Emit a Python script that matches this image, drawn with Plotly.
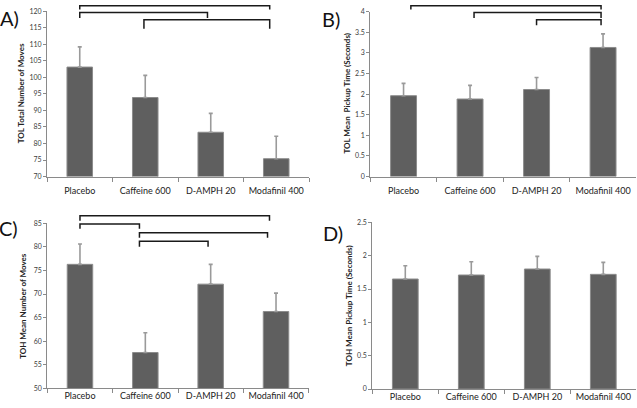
import plotly.graph_objects as go

categories = ["Placebo", "Caffeine 600", "D-AMPH 20", "Modafinil 400"]

tol_moves = [103.1, 93.9, 83.4, 75.4]
tol_moves_err = [6.1, 6.7, 5.7, 6.8]

tol_pickup = [1.96, 1.88, 2.11, 3.13]
tol_pickup_err = [0.30, 0.33, 0.29, 0.33]

toh_moves = [76.3, 57.6, 72.1, 66.3]
toh_moves_err = [4.3, 4.2, 4.2, 3.9]

toh_pickup = [1.65, 1.71, 1.80, 1.72]
toh_pickup_err = [0.20, 0.20, 0.19, 0.18]

# significance brackets: (left category pos, right category pos)
brackets_A = [(0.0, 2.9), (0.0, 1.95), (0.98, 2.9)]
brackets_B = [(0.11, 2.97), (1.06, 2.97), (2.0, 2.97)]
brackets_C = [(0.0, 2.9), (0.0, 0.91), (0.91, 2.87), (0.91, 1.96)]
brackets_D = []

W, H = 637, 408
BAR = "#5f5f5f"
AX = "#8a8a8a"
FONT = "Lato, 'Open Sans', sans-serif"

# panel geometry in pixels: (left, right, top, bottom)
panels = [
    dict(name="A)", data=tol_moves, err=tol_moves_err, rng=[70, 120], dt=5,
         box=(47, 309, 6.3, 175), title="TOL Total Number of Moves", tx=20.5,
         br=brackets_A, brpx=[(0.7, 4.7), (7.7, 13.3), (15, 24.3)], lab=(9, 13), so=6),
    dict(name="B)", data=tol_pickup, err=tol_pickup_err, rng=[0, 4], dt=0.5,
         box=(370.3, 636.3, 6.7, 175), title="TOL Mean  Pickup Time (Seconds)", tx=347.5,
         br=brackets_B, brpx=[(0.7, 4.7), (7.7, 13.3), (15, 20.7)], lab=(331, 14), so=6),
    dict(name="C)", data=toh_moves, err=toh_moves_err, rng=[50, 85], dt=5,
         box=(47.3, 308.7, 222.7, 391), title="TOH Mean Number of Moves", tx=23,
         br=brackets_C, brpx=[(215, 220), (223.3, 228.3), (232.3, 237.3), (241, 246.7)],
         lab=(8, 227), so=-1),
    dict(name="D)", data=toh_pickup, err=toh_pickup_err, rng=[0, 2.5], dt=0.5,
         box=(372.3, 636.3, 221.7, 391.7), title="TOH Mean Pickup Time (Seconds)", tx=348.5,
         br=brackets_D, brpx=[], lab=(333, 233), so=-1),
]

fig = go.Figure()
shapes = []
annotations = []

for k, p in enumerate(panels):
    sfx = "" if k == 0 else str(k + 1)
    l, r, t, b = p["box"]
    fig.add_trace(go.Bar(
        x=categories, y=p["data"], xaxis="x" + sfx, yaxis="y" + sfx,
        width=0.39,
        marker=dict(color=BAR, line=dict(color="#8c8c8c", width=1)),
        error_y=dict(type="data", array=p["err"], arrayminus=[0] * 4, symmetric=False,
                     color="#9a9a9a", thickness=1.6, width=2),
        showlegend=False,
    ))
    xdom = [l / W, r / W]
    ydom = [1 - b / H, 1 - t / H]
    fig.update_layout(**{
        "xaxis" + sfx: dict(domain=xdom, anchor="y" + sfx, showline=True, linecolor=AX,
                            linewidth=1, ticks="outside", tickson="boundaries", ticklen=4,
                            tickcolor=AX, showgrid=False, range=[-0.5, 3.5],
                            ticklabelstandoff=p["so"],
                            tickfont=dict(size=9, color="#222222", family=FONT)),
        "yaxis" + sfx: dict(domain=ydom, anchor="x" + sfx, showline=True, linecolor=AX,
                            linewidth=1, ticks="outside", ticklen=3, tickcolor=AX,
                            range=p["rng"], dtick=p["dt"], showgrid=False, zeroline=False,
                            tickfont=dict(size=7, color="#404040", family=FONT)),
    })

    def px_x(pos, l=l, r=r):
        return (l + (pos + 0.5) / 4 * (r - l)) / W

    for (a, c), (ly, lg) in zip(p["br"], p["brpx"]):
        x0, x1 = px_x(a), px_x(c)
        y0, y1 = 1 - ly / H, 1 - lg / H
        shapes.append(dict(type="path", xref="paper", yref="paper",
                           path=f"M {x0} {y1} L {x0} {y0} L {x1} {y0} L {x1} {y1}",
                           line=dict(color="#1a1a1a", width=1.5)))
    annotations.append(dict(text="<b>" + p["title"] + "</b>", textangle=-90,
                            xref="paper", yref="paper",
                            x=p["tx"] / W, y=1 - (t + b) / 2 / H, showarrow=False,
                            font=dict(size=8, color="#222222", family=FONT),
                            xanchor="center", yanchor="middle"))
    annotations.append(dict(text=p["name"], xref="paper", yref="paper",
                            x=p["lab"][0] / W, y=1 - p["lab"][1] / H, showarrow=False,
                            font=dict(size=20, color="#111111", family=FONT),
                            xanchor="center", yanchor="middle"))

fig.update_layout(width=W, height=H, margin=dict(l=0, r=0, t=0, b=0),
                  plot_bgcolor="white", paper_bgcolor="white",
                  shapes=shapes, annotations=annotations)

fig.write_html("out.html", config={"displayModeBar": False},
               post_script="document.body.style.margin='0';document.body.style.overflow='hidden';")
